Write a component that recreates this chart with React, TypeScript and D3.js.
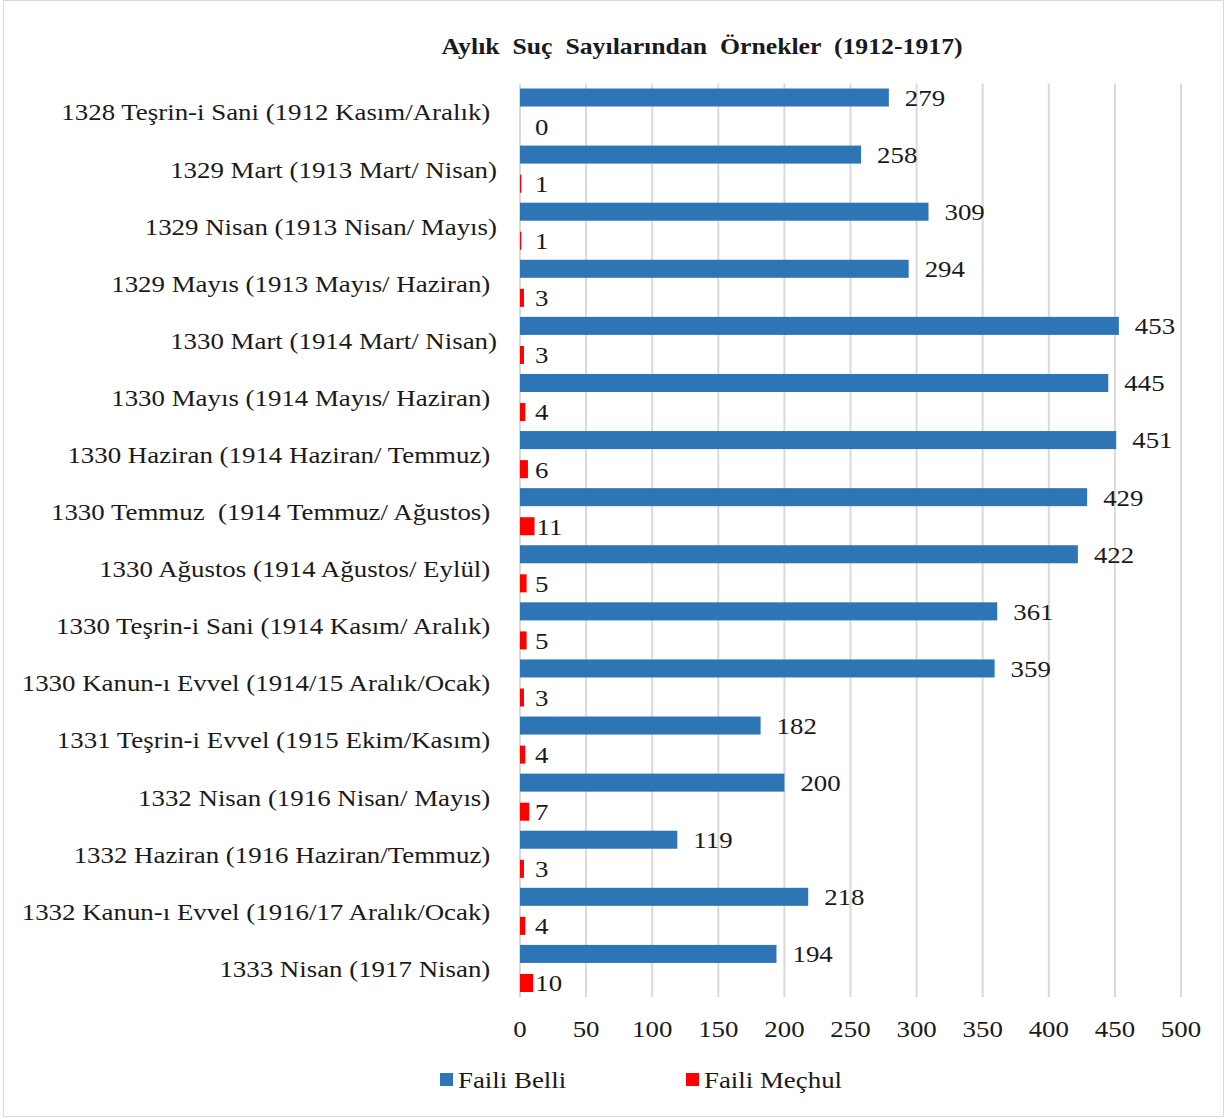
import React from "react";
import * as d3 from "d3";

const categories = [
  "1328 Teşrin-i Sani (1912 Kasım/Aralık) ",
  "1329 Mart (1913 Mart/ Nisan)",
  "1329 Nisan (1913 Nisan/ Mayıs)",
  "1329 Mayıs (1913 Mayıs/ Haziran) ",
  "1330 Mart (1914 Mart/ Nisan)",
  "1330 Mayıs (1914 Mayıs/ Haziran) ",
  "1330 Haziran (1914 Haziran/ Temmuz) ",
  "1330 Temmuz  (1914 Temmuz/ Ağustos) ",
  "1330 Ağustos (1914 Ağustos/ Eylül) ",
  "1330 Teşrin-i Sani (1914 Kasım/ Aralık) ",
  "1330 Kanun-ı Evvel (1914/15 Aralık/Ocak) ",
  "1331 Teşrin-i Evvel (1915 Ekim/Kasım) ",
  "1332 Nisan (1916 Nisan/ Mayıs) ",
  "1332 Haziran (1916 Haziran/Temmuz) ",
  "1332 Kanun-ı Evvel (1916/17 Aralık/Ocak) ",
  "1333 Nisan (1917 Nisan) ",
];
const failiBelli = [279, 258, 309, 294, 453, 445, 451, 429, 422, 361, 359, 182, 200, 119, 218, 194];
const failiMechul = [0, 1, 1, 3, 3, 4, 6, 11, 5, 5, 3, 4, 7, 3, 4, 10];
const xTicks = [0, 50, 100, 150, 200, 250, 300, 350, 400, 450, 500];
const seriesNames = ["Faili Belli", "Faili Meçhul"];
const seriesColors = ["#2E75B6", "#FF0000"];

const W = 1227;
const H = 1119;
const FONT = "Liberation Serif";
const STRETCH = 1.12; // the reference text is a bit wide

// text drawn at (x, y), stretched horizontally
const T = ({ x, y, size = 24, anchor = "start", bold = false, dy = "0", children }: any) => (
  <text
    transform={`translate(${x},${y}) scale(${STRETCH},1)`}
    dy={dy}
    textAnchor={anchor}
    fontSize={size}
    fontWeight={bold ? "bold" : "normal"}
    fill="#1a1a1a"
    style={{ fontFamily: FONT, whiteSpace: "pre" }}
  >
    {children}
  </text>
);

export default function App() {
  const x = d3.scaleLinear().domain([0, 500]).range([520, 1181]);
  const y = d3
    .scaleBand<number>()
    .domain(d3.range(categories.length))
    .range([83.5, 997])
    .paddingInner(0.175)
    .paddingOuter(0.0875);
  const ys = d3.scaleBand<number>().domain([0, 1]).range([0, y.bandwidth()]).paddingInner(0.38);
  const series = [failiBelli, failiMechul];

  return (
    <svg width={W} height={H} style={{ display: "block", position: "absolute", left: 0, top: 0, background: "#fff" }}>
      <rect x={3.5} y={0.5} width={1220} height={1116} fill="#fff" stroke="#d9d9d9" />
      <T x={702} y={54} size={23} bold anchor="middle">
        {"Aylık  Suç  Sayılarından  Örnekler  (1912-1917)"}
      </T>
      {xTicks.map((t) => (
        <g key={t}>
          <line x1={x(t)} x2={x(t)} y1={83.5} y2={997} stroke="#d9d9d9" strokeWidth={2} />
          <T x={x(t)} y={1037} anchor="middle">{t}</T>
        </g>
      ))}
      {categories.map((c, i) => {
        const cy = (y(i) as number) + y.bandwidth() / 2;
        return (
          <g key={i}>
            <T x={497} y={cy} dy="0.35em" anchor="end">{c}</T>
            {series.map((s, k) => {
              const v = s[i];
              const by = (y(i) as number) + (ys(k) as number);
              const lx = k === 0 ? x(v) + 16 : Math.max(x(v) + 2, x(0) + 15);
              return (
                <g key={k}>
                  <rect x={x(0)} y={by} width={x(v) - x(0)} height={ys.bandwidth()} fill={seriesColors[k]} />
                  <T x={lx} y={by + ys.bandwidth() / 2} dy="0.35em">{v}</T>
                </g>
              );
            })}
          </g>
        );
      })}
      {seriesNames.map((n, k) => {
        const lx = k === 0 ? 440 : 686;
        return (
          <g key={n}>
            <rect x={lx} y={1073} width={13} height={13} fill={seriesColors[k]} />
            <T x={lx + 18} y={1088}>{n}</T>
          </g>
        );
      })}
    </svg>
  );
}
